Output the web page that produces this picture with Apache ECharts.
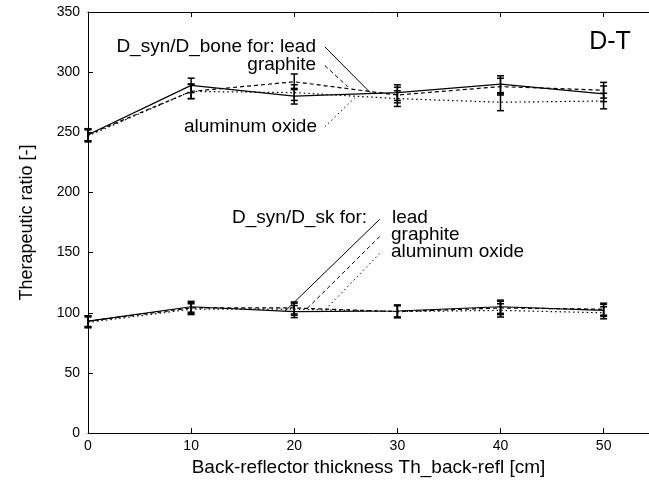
<!DOCTYPE html>
<html><head><meta charset="utf-8">
<script src="https://cdn.jsdelivr.net/npm/echarts@6/dist/echarts.min.js"></script>
<style>html,body{margin:0;padding:0;background:#fff}#c{width:649px;height:482px}</style>
</head><body><div id="c"></div>
<script>
// ---- data ----
const thickness = [0, 10, 20, 30, 40, 50];
const xTickLabels = ['0', '10', '20', '30', '40', '50'];
const yTickLabels = ['0', '50', '100', '150', '200', '250', '300', '350'];

const boneLead     = [248, 289, 280, 283, 290, 282];
const boneGraphite = [248, 284, 292, 281, 288, 285];
const boneAlumina  = [247, 284, 283, 278, 275, 276];
const boneErr      = [5, 6, 6.5, 6.5, 7, 6.5];

const skLead     = [93, 105, 101, 101.5, 105, 102];
const skGraphite = [93, 104, 104, 101, 104, 103];
const skAlumina  = [92, 103, 103, 101, 102, 100];
const skErr      = [4.5, 4.5, 5, 5, 5.5, 5];

// annotation pointer lines, in data coordinates [x1,y1,x2,y2]
const pointerLines = [
  {pts: [22.97, 321.0, 27.39, 282.8], type: 'solid'},
  {pts: [22.97, 305.5, 25.19, 287.8], type: [4, 3]},
  {pts: [22.97, 254.6, 25.87, 278.7], type: [1.5, 3]},
  {pts: [28.29, 177.7, 19.09, 101.2], type: 'solid'},
  {pts: [28.29, 163.4, 21.19, 103.1], type: [4, 3]},
  {pts: [28.29, 149.3, 23.13, 103.7], type: [1.5, 3]}
];

const FONT = '"Liberation Sans", Arial, sans-serif';
const chart = echarts.init(document.getElementById('c'), null, {renderer: 'canvas'});

function lineSeries(name, vals, type) {
  return {
    type: 'line', name, data: thickness.map((x, i) => [x, vals[i]]),
    symbol: 'none', lineStyle: {color: '#000', width: 1.2, type}, animation: false, z: 3
  };
}
function errSeries(vals, errs) {
  return {
    type: 'custom', animation: false, z: 4,
    data: thickness.map((x, i) => [x, vals[i] - errs[i], vals[i] + errs[i]]),
    encode: {x: 0, y: [1, 2]},
    renderItem(params, api) {
      const x = api.value(0);
      const lo = api.coord([x, api.value(1)]);
      const hi = api.coord([x, api.value(2)]);
      const w = 3.5, st = {stroke: '#000', lineWidth: 1.5};
      return {type: 'group', children: [
        {type: 'line', shape: {x1: lo[0], y1: lo[1], x2: hi[0], y2: hi[1]}, style: st},
        {type: 'line', shape: {x1: lo[0] - w, y1: lo[1], x2: lo[0] + w, y2: lo[1]}, style: st},
        {type: 'line', shape: {x1: hi[0] - w, y1: hi[1], x2: hi[0] + w, y2: hi[1]}, style: st}
      ]};
    }
  };
}

const axisCommon = {
  type: 'value', min: 0, max: 54.4, interval: 10,
  axisLine: {show: true, lineStyle: {color: '#000', width: 1}},
  axisTick: {show: true, inside: true, length: 5, lineStyle: {color: '#000'}},
  splitLine: {show: false}
};

chart.setOption({
  animation: false,
  backgroundColor: '#fff',
  grid: {left: 88, top: 12, right: 0, bottom: 48},
  xAxis: [
    Object.assign({}, axisCommon, {
      position: 'bottom',
      axisLabel: {fontSize: 14, color: '#000', fontFamily: FONT, margin: 6, showMaxLabel: false,
        formatter: v => { const i = thickness.indexOf(v); return i >= 0 ? xTickLabels[i] : ''; }},
      name: 'Back-reflector thickness Th_back-refl [cm]', nameLocation: 'middle', nameGap: 24,
      nameTextStyle: {fontSize: 19, color: '#000', fontFamily: FONT}
    }),
    Object.assign({}, axisCommon, {position: 'top', axisLabel: {show: false}})
  ],
  yAxis: {
    type: 'value', min: 0, max: 350, interval: 50,
    axisLine: {show: true, lineStyle: {color: '#000', width: 1}},
    axisTick: {show: true, inside: true, length: 5, lineStyle: {color: '#000'}},
    splitLine: {show: false},
    axisLabel: {fontSize: 14, color: '#000', fontFamily: FONT, margin: 8,
      formatter: v => yTickLabels[Math.round(v / 50)] || ''},
    name: 'Therapeutic ratio [-]', nameLocation: 'middle', nameGap: 52,
    nameTextStyle: {fontSize: 18, color: '#000', fontFamily: FONT}
  },
  series: [
    lineSeries('bone lead', boneLead, 'solid'),
    lineSeries('bone graphite', boneGraphite, [4, 3]),
    lineSeries('bone alumina', boneAlumina, [1.5, 3]),
    lineSeries('sk lead', skLead, 'solid'),
    lineSeries('sk graphite', skGraphite, [4, 3]),
    lineSeries('sk alumina', skAlumina, [1.5, 3]),
    errSeries(boneLead, boneErr),
    errSeries(boneGraphite, boneErr),
    errSeries(boneAlumina, boneErr),
    errSeries(skLead, skErr),
    errSeries(skGraphite, skErr),
    errSeries(skAlumina, skErr)
  ]
});

const lines = pointerLines.map(p => {
  const a = chart.convertToPixel({gridIndex: 0}, [p.pts[0], p.pts[1]]);
  const b = chart.convertToPixel({gridIndex: 0}, [p.pts[2], p.pts[3]]);
  return {type: 'line', shape: {x1: a[0], y1: a[1], x2: b[0], y2: b[1]},
    style: {stroke: '#000', lineWidth: 1, lineDash: p.type === 'solid' ? null : p.type}, z: 10};
});
const txt = (text, x, y, align, size) => ({
  type: 'text', x, y, z: 10,
  style: {text, fill: '#000', font: `${size || 19}px ${FONT}`, textAlign: align, textVerticalAlign: 'middle'}
});
chart.setOption({
  graphic: lines.concat([
    txt('D_syn/D_bone for: lead', 316, 47, 'right'),
    txt('graphite', 316, 65, 'right'),
    txt('aluminum oxide', 317, 127, 'right'),
    txt('D_syn/D_sk for:', 232, 218, 'left'),
    txt('lead', 392, 218, 'left'),
    txt('graphite', 391, 235, 'left'),
    txt('aluminum oxide', 391, 252, 'left'),
    txt('D-T', 610, 42, 'center', 25)
  ])
});
</script></body></html>
